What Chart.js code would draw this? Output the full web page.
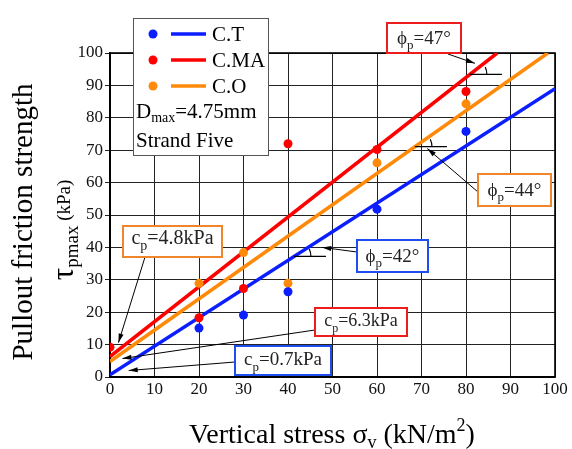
<!DOCTYPE html>
<html>
<head>
<meta charset="utf-8">
<script src="https://cdn.jsdelivr.net/npm/chart.js@4.4.1/dist/chart.umd.min.js"></script>
<style>
  html, body { margin: 0; padding: 0; background: #fff; }
  #wrap { width: 572px; height: 449px; }
</style>
</head>
<body>
<div id="wrap"><canvas id="chart"></canvas></div>
<script>
// measured points
var x_ct = [20, 30, 40, 60, 80];
var y_ct = [15.1, 19.1, 26.3, 51.8, 75.8];
var x_cma = [0, 20, 30, 40, 60, 80];
var y_cma = [9.2, 18.3, 27.3, 72.0, 70.2, 88.1];
var x_co = [20, 30, 40, 60, 80];
var y_co = [28.9, 38.4, 28.9, 66.1, 84.3];

// fitted lines (end points)
var fit_x_ct = [0, 100];
var fit_y_ct = [0.7, 89.0];
var fit_x_cma = [0, 87.0];
var fit_y_cma = [6.3, 100];
var fit_x_co = [0, 98.4];
var fit_y_co = [4.8, 100];

var tick_values = [0, 10, 20, 30, 40, 50, 60, 70, 80, 90, 100];

var BLUE = '#0a1eff';
var RED = '#ff0000';
var ORANGE = '#ff8a0a';
var SERIF = '"Liberation Serif", "DejaVu Serif", serif';

function pts(xs, ys) {
    var out = [];
    for (let i = 0; i < xs.length; i++) out.push({ x: xs[i], y: ys[i] });
    return out;
}

function lineSet(xs, ys, color) {
    return {
        data: pts(xs, ys), showLine: true, borderColor: color, borderWidth: 3.5,
        pointRadius: 0, fill: false, clip: 0, order: 2
    };
}
function pointSet(xs, ys, color) {
    return {
        data: pts(xs, ys), showLine: false, backgroundColor: color, borderColor: color,
        pointRadius: 4.5, borderWidth: 0, clip: 0, order: 1
    };
}

// draw text made of pieces (for sub/superscripts)
function richWidth(ctx, parts) {
    var w = 0;
    parts.forEach(function(p) { ctx.font = p.size + 'px ' + SERIF; w += ctx.measureText(p.t).width; });
    return w;
}
function drawRich(ctx, parts, x, y) {
    var cx = x;
    parts.forEach(function(p) {
        ctx.font = p.size + 'px ' + SERIF;
        ctx.fillText(p.t, cx, y + (p.dy || 0));
        cx += ctx.measureText(p.t).width;
    });
}
function drawRichCentered(ctx, parts, x, y) {
    drawRich(ctx, parts, x - richWidth(ctx, parts) / 2, y);
}

function arrow(ctx, x1, y1, x2, y2) {
    ctx.save();
    ctx.strokeStyle = '#000';
    ctx.fillStyle = '#000';
    ctx.lineWidth = 1;
    ctx.beginPath(); ctx.moveTo(x1, y1); ctx.lineTo(x2, y2); ctx.stroke();
    var a = Math.atan2(y2 - y1, x2 - x1);
    ctx.beginPath();
    ctx.moveTo(x2, y2);
    ctx.lineTo(x2 - 9 * Math.cos(a) + 2.5 * Math.sin(a), y2 - 9 * Math.sin(a) - 2.5 * Math.cos(a));
    ctx.lineTo(x2 - 9 * Math.cos(a) - 2.5 * Math.sin(a), y2 - 9 * Math.sin(a) + 2.5 * Math.cos(a));
    ctx.closePath(); ctx.fill();
    ctx.restore();
}

function textBox(ctx, x, y, w, h, color, parts, base) {
    ctx.save();
    ctx.fillStyle = '#fff';
    ctx.fillRect(x, y, w, h);
    ctx.strokeStyle = color;
    ctx.lineWidth = 2;
    ctx.strokeRect(x, y, w, h);
    ctx.fillStyle = '#222';
    ctx.textAlign = 'left';
    ctx.textBaseline = 'alphabetic';
    drawRichCentered(ctx, parts, x + w / 2, y + base);
    ctx.restore();
}

// angle sign: horizontal line from where the fit line crosses value yv, small arc
function angleMark(ctx, xs, ys, yv, sx, sy) {
    var slope = (ys[1] - ys[0]) / (xs[1] - xs[0]);
    var xv = (yv - ys[0]) / slope;
    var px = sx.getPixelForValue(xv), py = sy.getPixelForValue(yv);
    ctx.save();
    ctx.strokeStyle = '#000';
    ctx.lineWidth = 1.2;
    ctx.beginPath(); ctx.moveTo(px, py); ctx.lineTo(px + 32, py); ctx.stroke();
    ctx.beginPath(); ctx.arc(px, py, 17, -0.45, 0); ctx.stroke();
    ctx.restore();
}

function phiParts(val) {
    return [{ t: 'ϕ', size: 19 }, { t: 'p', size: 13, dy: 5 }, { t: '=' + val + '°', size: 19 }];
}
function cParts(val, size) {
    return [{ t: 'c', size: size }, { t: 'p', size: size - 6, dy: 6 }, { t: '=' + val + 'kPa', size: size }];
}

var extras = {
    id: 'extras',
    beforeDatasetsDraw: function(chart) {
        var ctx = chart.ctx, a = chart.chartArea;
        ctx.save();
        ctx.strokeStyle = '#000';
        ctx.lineWidth = 1.6;
        ctx.strokeRect(a.left, a.top, a.right - a.left, a.bottom - a.top);
        ctx.restore();
    },
    afterDraw: function(chart) {
        var ctx = chart.ctx;
        var sx = chart.scales.x, sy = chart.scales.y;
        ctx.save();
        ctx.fillStyle = '#000';

        // axis titles
        ctx.textAlign = 'left';
        ctx.textBaseline = 'alphabetic';
        drawRichCentered(ctx, [
            { t: 'Vertical stress σ', size: 28 }, { t: 'v', size: 18, dy: 5 },
            { t: ' (kN/m', size: 28 }, { t: '2', size: 18, dy: -12 }, { t: ')', size: 28 }
        ], 332, 443);

        ctx.save();
        ctx.translate(32, 222);
        ctx.rotate(-Math.PI / 2);
        ctx.font = '29px ' + SERIF;
        ctx.textAlign = 'center';
        ctx.fillText('Pullout friction strength', 0, 0);
        ctx.restore();

        ctx.save();
        ctx.translate(73, 230);
        ctx.rotate(-Math.PI / 2);
        ctx.textAlign = 'left';
        drawRichCentered(ctx, [
            { t: 'τ', size: 31 }, { t: 'pmax', size: 19, dy: 5 }, { t: ' (kPa)', size: 19, dy: -3 }
        ], 0, 0);
        ctx.restore();

        // angle signs and arrows
        angleMark(ctx, fit_x_cma, fit_y_cma, 93.4, sx, sy);
        angleMark(ctx, fit_x_co, fit_y_co, 71.1, sx, sy);
        angleMark(ctx, fit_x_ct, fit_y_ct, 37.2, sx, sy);

        arrow(ctx, 448, 54, sx.getPixelForValue(82.0), sy.getPixelForValue(96.8));
        arrow(ctx, 478, 192, sx.getPixelForValue(71.3), sy.getPixelForValue(70.5));
        arrow(ctx, 357, 252, sx.getPixelForValue(47.7), sy.getPixelForValue(40.0));
        arrow(ctx, 145, 257, sx.getPixelForValue(1.9), sy.getPixelForValue(10.6));
        arrow(ctx, 315, 330, sx.getPixelForValue(2.8), sy.getPixelForValue(5.7));
        arrow(ctx, 235, 362, sx.getPixelForValue(4.2), sy.getPixelForValue(2.0));

        // label boxes
        textBox(ctx, 387, 23, 74, 30, '#ee1c1c', phiParts('47'), 21);
        textBox(ctx, 478, 174, 73, 32, '#f0862c', phiParts('44'), 22);
        textBox(ctx, 357, 240, 71, 32, '#1f4ef0', phiParts('42'), 22);
        textBox(ctx, 123, 226, 99, 31, '#f0862c', cParts('4.8', 20), 18);
        textBox(ctx, 315, 308, 92, 28, '#ee1c1c', cParts('6.3', 18), 18);
        textBox(ctx, 235, 346, 96, 29, '#1f4ef0', cParts('0.7', 19), 19);

        // legend box
        ctx.fillStyle = '#fff';
        ctx.fillRect(133, 18, 135, 137);
        ctx.strokeStyle = '#555';
        ctx.lineWidth = 1;
        ctx.strokeRect(133.5, 18.5, 135, 137);
        var names = ['C.T', 'C.MA', 'C.O'];
        var cols = [BLUE, RED, ORANGE];
        for (let i = 0; i < 3; i++) {
            var yy = 34 + i * 26;
            ctx.fillStyle = cols[i];
            ctx.beginPath(); ctx.arc(153, yy, 4.5, 0, Math.PI * 2); ctx.fill();
            ctx.strokeStyle = cols[i];
            ctx.lineWidth = 3.5;
            ctx.beginPath(); ctx.moveTo(171, yy); ctx.lineTo(206, yy); ctx.stroke();
            ctx.fillStyle = '#000';
            ctx.font = '21px ' + SERIF;
            ctx.fillText(names[i], 212, yy + 7);
        }
        ctx.fillStyle = '#000';
        drawRich(ctx, [{ t: 'D', size: 21 }, { t: 'max', size: 14, dy: 4 }, { t: '=4.75mm', size: 21 }], 136, 118);
        ctx.font = '21px ' + SERIF;
        ctx.fillText('Strand Five', 136, 147);
        ctx.restore();
    }
};

const ctx = document.getElementById('chart').getContext('2d');
const myChart = new Chart(ctx, {
    type: 'scatter',
    data: {
        datasets: [
            pointSet(x_ct, y_ct, BLUE),
            pointSet(x_cma, y_cma, RED),
            pointSet(x_co, y_co, ORANGE),
            lineSet(fit_x_ct, fit_y_ct, BLUE),
            lineSet(fit_x_cma, fit_y_cma, RED),
            lineSet(fit_x_co, fit_y_co, ORANGE),
        ],
    },
    options: {
        responsive: true,
        maintainAspectRatio: false,
        animation: false,
        layout: { padding: { top: 53, right: 17, left: 0, bottom: 0 } },
        plugins: {
            legend: { display: false },
            tooltip: { enabled: false },
        },
        scales: {
            x: {
                type: 'linear', min: 0, max: 100,
                afterFit: function(scale) { scale.height = 72; },
                afterBuildTicks: function(scale) { scale.ticks = tick_values.map(function(v) { return { value: v }; }); },
                grid: { color: '#222', lineWidth: 1, drawTicks: false },
                border: { color: '#000', width: 1.6 },
                ticks: { color: '#111', padding: 2, maxRotation: 0, font: { family: SERIF, size: 17 } },
            },
            y: {
                type: 'linear', min: 0, max: 100,
                afterFit: function(scale) { scale.width = 110; },
                afterBuildTicks: function(scale) { scale.ticks = tick_values.map(function(v) { return { value: v }; }); },
                grid: { color: '#222', lineWidth: 1, tickLength: 5 },
                border: { color: '#000', width: 1.6 },
                ticks: { color: '#111', padding: 2, font: { family: SERIF, size: 17 } },
            },
        },
    },
    plugins: [extras],
});
</script>
</body>
</html>
